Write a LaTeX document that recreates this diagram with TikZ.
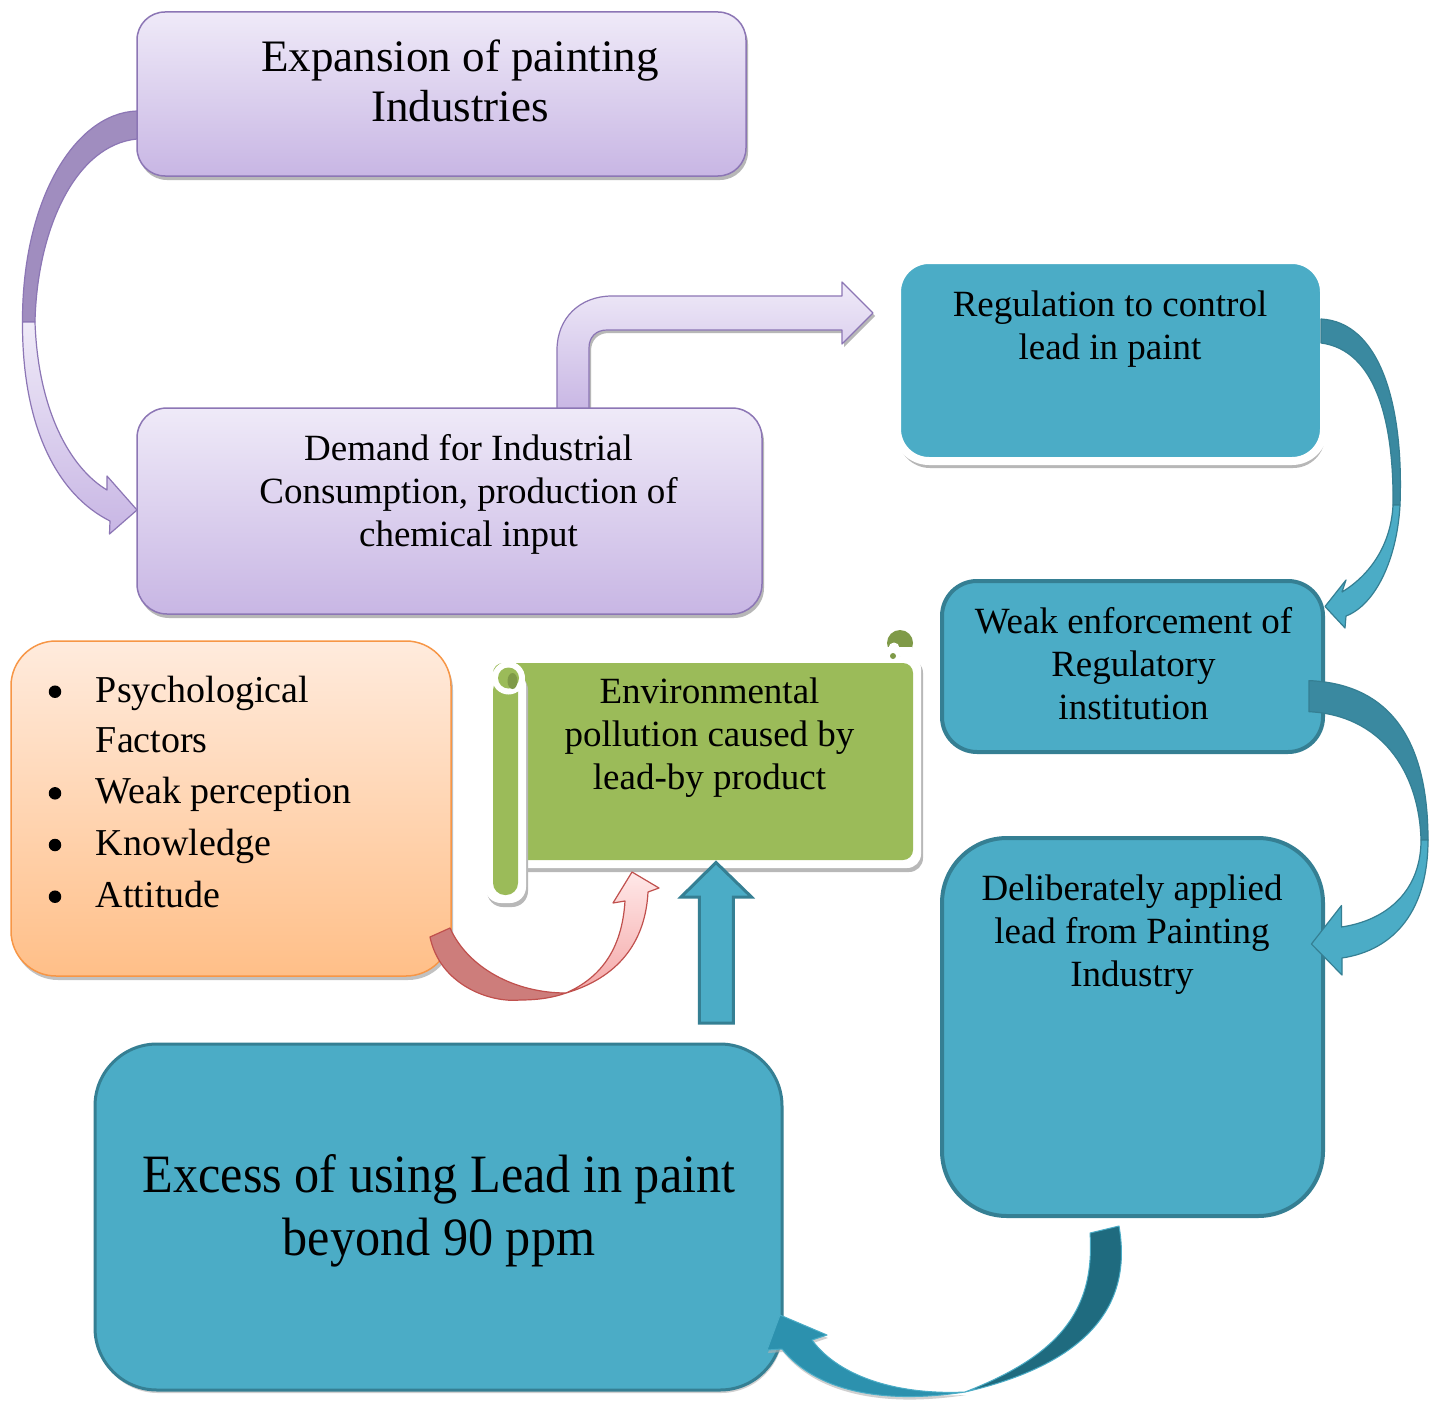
\documentclass[tikz,border=0pt]{standalone}
\usepackage{fontspec}
\setmainfont{Liberation Serif}
\newfontfamily\condfont{Liberation Serif}[FakeStretch=0.93]
\usetikzlibrary{shadows}
\definecolor{purpTop}{HTML}{EFEAF8}
\definecolor{purpBot}{HTML}{C8B6E4}
\definecolor{purpLine}{HTML}{8C76B5}
\definecolor{purpDark}{HTML}{A08DBF}
\definecolor{tealFill}{HTML}{4BACC6}
\definecolor{tealLine}{HTML}{357F93}
\definecolor{tealBand}{HTML}{3A89A0}
\definecolor{tealDeep}{HTML}{1F6B7F}
\definecolor{tealArr}{HTML}{2C91AE}
\definecolor{orTop}{HTML}{FFEBDD}
\definecolor{orBot}{HTML}{FFBF88}
\definecolor{orLine}{HTML}{F79646}
\definecolor{grn}{HTML}{9BBB59}
\definecolor{grnDark}{HTML}{7F9A48}
\definecolor{redDark}{HTML}{CD7D7B}
\definecolor{redLine}{HTML}{C0504D}
\definecolor{pinkTop}{HTML}{FFE8E8}
\definecolor{pinkBot}{HTML}{F4A7A7}
\tikzset{
  boxbase/.style={rectangle, inner sep=0pt, outer sep=0pt},
  purplebox/.style={boxbase, top color=purpTop, bottom color=purpBot, draw=purpLine, line width=1.5pt,
    drop shadow={shadow xshift=2pt, shadow yshift=-4pt, fill=black!35, opacity=0.8}},
  tealbox/.style={boxbase, fill=tealFill, draw=tealLine, line width=4pt},
  txt/.style={align=center, inner sep=0pt, outer sep=0pt, font=\fontsize{37}{43}\selectfont},
  itemtxt/.style={anchor=base west, inner sep=0pt, font=\fontsize{38}{43}\selectfont},
  bul/.style={circle, fill=black, inner sep=0pt, minimum size=12.5pt},
  arrowline/.style={line width=1.2pt, line join=round},
}
\begin{document}
\begin{tikzpicture}[x=1pt,y=-1pt]
\useasboundingbox (0,0) rectangle (1429,1402);
\fill[white] (0,0) rectangle (1429,1402);

% bent purple arrow (Demand -> Regulation)
\path[arrowline, draw=purpLine, top color=purpTop, bottom color=purpBot,
  drop shadow={shadow xshift=2pt, shadow yshift=-3pt, fill=black!35, opacity=0.8}]
  (557,412) -- (557,350) .. controls (557,318) and (580,296) .. (612,296) -- (842,296)
  -- (842,282) -- (873,313) -- (842,344) -- (842,330) -- (607,330)
  .. controls (596,330) and (589,337) .. (589,348) -- (589,412) -- cycle;

% box 1
\node[purplebox, rounded corners=28pt, minimum width=609pt, minimum height=164pt] (expbox) at (441.5,94) {};
\node[txt, font=\fontsize{45}{50}\selectfont] (exptxt) at (460,80.5) {Expansion of painting\\Industries};

% box 2
\node[purplebox, rounded corners=30pt, minimum width=625pt, minimum height=206pt] (dembox) at (449.5,511) {};
\node[txt] (demtxt) at (468.5,494.6) {Demand for Industrial\\Consumption, production of\\chemical input};

% curved purple arrow (Expansion -> Demand)
\path[arrowline, draw=purpLine, fill=purpDark]
  (137,111) .. controls (75,113) and (22,200) .. (22.5,322) -- (35,322)
  .. controls (37,230) and (75,145) .. (137,139) -- cycle;
\path[arrowline, draw=purpLine, top color=purpTop, bottom color=purpBot]
  (22.5,322) .. controls (22,428) and (58,495) .. (110,521) -- (109.5,534) -- (137,510)
  -- (107,476) -- (107,490) .. controls (70,468) and (38,410) .. (35,322) -- cycle;

% Regulation box
\node[boxbase, rounded corners=32pt, fill=tealFill, draw=white, line width=8pt,
  minimum width=427pt, minimum height=201pt,
  drop shadow={shadow xshift=1pt, shadow yshift=-7pt, fill=black!35, opacity=0.8}] (regbox) at (1110.5,360.5) {};
\node[txt] (regtxt) at (1110,329.4) {Regulation to control\\lead in paint};

% Weak enforcement box
\node[tealbox, rounded corners=35pt, minimum width=381pt, minimum height=171pt] (weakbox) at (1132.5,666.5) {};
\node[txt] (weaktxt) at (1133.5,663.2) {Weak enforcement of\\Regulatory\\institution};

% Deliberately box
\node[tealbox, rounded corners=65pt, minimum width=381pt, minimum height=378pt] (delbox) at (1132.5,1027) {};
\node[txt] (deltxt) at (1132,935) {Deliberately applied\\lead from Painting\\Industry};

% Excess box
\node[tealbox, line width=3pt, rounded corners=62pt, minimum width=687pt, minimum height=346pt,
  drop shadow={shadow xshift=1pt, shadow yshift=-3pt, fill=black!30, opacity=0.6}] (excbox) at (438.5,1217) {};
\node[txt, font=\condfont\fontsize{54}{62.5}\selectfont] (exctxt) at (439,1210.7) {Excess of using Lead in paint\\beyond 90 ppm};

% Orange box
\node[boxbase, rounded corners=45pt, top color=orTop, bottom color=orBot, draw=orLine, line width=1.5pt,
  minimum width=440pt, minimum height=335pt,
  drop shadow={shadow xshift=2pt, shadow yshift=-4pt, fill=black!30, opacity=0.8}] (orbox) at (231,808.5) {};
\node[bul] (bu1) at (55,691.7) {};
\node[bul] (bu2) at (55,793.3) {};
\node[bul] (bu3) at (55,845) {};
\node[bul] (bu4) at (55,896.7) {};
\node[itemtxt] (it1) at (95.7,702) {Psychological};
\node[itemtxt] (it2) at (95.7,752) {Factors};
\node[itemtxt] (it3) at (95.7,803) {Weak perception};
\node[itemtxt] (it4) at (95.7,855) {Knowledge};
\node[itemtxt] (it5) at (95.7,907) {Attitude};

% Scroll
\fill[black!28, rounded corners=14pt] (487,659) rectangle (923,872);
\fill[white, rounded corners=14pt] (485,655) rectangle (921,868);
\node[boxbase, fill=grn, rounded corners=10pt, minimum width=420pt, minimum height=197pt] (scroll) at (703,761.5) {};
\fill[black!28, rounded corners=16pt] (487,674) rectangle (528,907);
\fill[white, rounded corners=16pt] (485,670) rectangle (526,903);
\fill[grn, rounded corners=12pt] (493,678) rectangle (518,895);
\fill[white] (508.5,678) circle (16.5);
\fill[grn] (508.5,678) circle (10.5);
\fill[grnDark] (512.5,681) ellipse (5 and 8);
\fill[grnDark] (900,643) circle (13);
\fill[white] (894,648) circle (5.5);
\fill[white] (878,647) rectangle (912,656);
\fill[grnDark] (893,656) circle (3);
\node[txt] (envtxt) at (709.5,737.7) {Environmental\\pollution caused by\\lead-by product};

% red curved arrow (Orange -> Scroll)
\path[arrowline, draw=redLine, fill=redDark]
  (430,937) .. controls (440,985) and (490,1003) .. (520,1000)
  .. controls (540,1000) and (555,997) .. (566,993)
  .. controls (515,993) and (468,968) .. (450,928) -- cycle;
\path[arrowline, draw=redLine, top color=pinkTop, bottom color=pinkBot]
  (566,993) .. controls (610,980) and (645,950) .. (648,892) -- (659,888) -- (632,872)
  -- (613,903) -- (625,901) .. controls (622,950) and (600,978) .. (566,993) -- cycle;

% teal up arrow (Excess -> Scroll)
\path[fill=tealFill, draw=tealLine, line width=3pt, line join=miter]
  (699.3,1023) -- (699.3,897) -- (681,897) -- (716,862.5) -- (751.5,897) -- (733.3,897) -- (733.3,1023) -- cycle;

% teal arrow 1 (Regulation -> Weak)
\path[arrowline, draw=tealLine, fill=tealBand]
  (1321,319) .. controls (1378,322) and (1404,400) .. (1400,505) -- (1393,505)
  .. controls (1394,420) and (1375,350) .. (1321,343) -- cycle;
\path[arrowline, draw=tealLine, fill=tealFill]
  (1400,505) .. controls (1397,560) and (1375,605) .. (1346,616) -- (1345,628) -- (1325,606.5)
  -- (1346,580) -- (1342,592) .. controls (1370,575) and (1391,545) .. (1393,505) -- cycle;

% teal arrow 2 (Weak -> Deliberately)
\path[arrowline, draw=tealLine, fill=tealBand]
  (1309,680.6) .. controls (1390,684) and (1428,740) .. (1428,840) -- (1421,840)
  .. controls (1419,770) and (1380,715) .. (1309,711.7) -- cycle;
\path[arrowline, draw=tealLine, fill=tealFill]
  (1428,840) .. controls (1428,910) and (1395,950) .. (1342,958) -- (1342,975) -- (1311.4,944)
  -- (1341.5,905.5) -- (1341.5,927) .. controls (1388,920) and (1421,890) .. (1421,840) -- cycle;

% teal arrow 3 (Deliberately -> Excess)
\path[line width=1pt, line join=round, draw=tealFill, fill=tealDeep]
  (1119,1226) .. controls (1132,1300) and (1095,1362) .. (965,1392)
  .. controls (1060,1355) and (1095,1310) .. (1090,1233) -- cycle;
\path[line width=1pt, line join=round, draw=tealFill, fill=tealArr,
  drop shadow={shadow xshift=1pt, shadow yshift=-3pt, fill=black!30, opacity=0.6}]
  (965,1392) .. controls (900,1395) and (840,1378) .. (812,1340) -- (827,1335) -- (780,1315)
  -- (767,1350) -- (782,1349) .. controls (815,1390) and (880,1405) .. (965,1392) -- cycle;
\end{tikzpicture}
\end{document}
